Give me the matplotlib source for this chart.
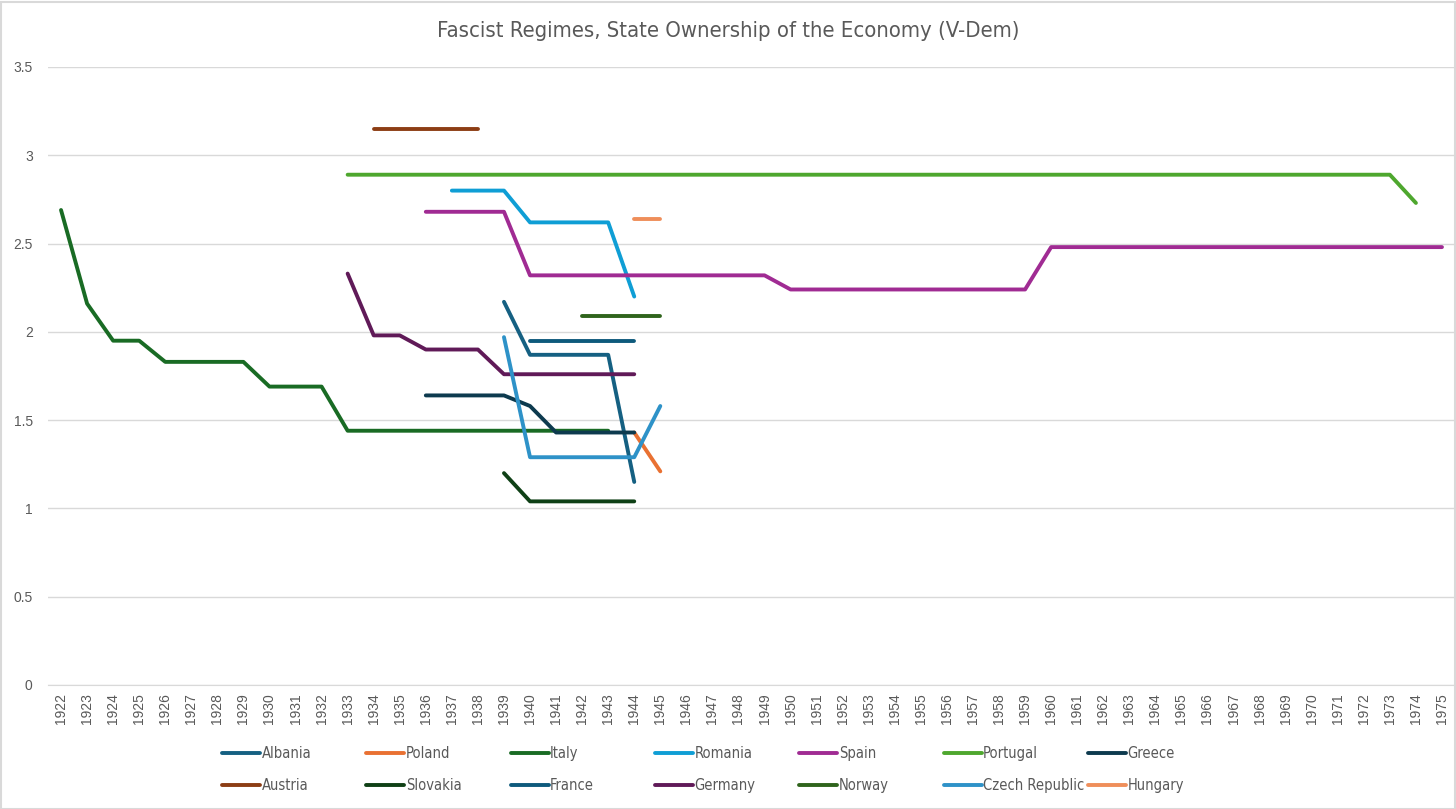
import numpy as np
import matplotlib
matplotlib.use("Agg")
import matplotlib.pyplot as plt
from matplotlib.patches import Rectangle
from matplotlib import font_manager as fm

years = list(range(1922, 1976))

# (start year, values)
albania_start, albania = 1939, [2.17, 1.87, 1.87, 1.87, 1.87, 1.15]
poland_start, poland = 1944, [1.43, 1.21]
italy_start, italy = 1922, [2.69, 2.16, 1.95, 1.95, 1.83, 1.83, 1.83, 1.83, 1.69, 1.69, 1.69,
                            1.44, 1.44, 1.44, 1.44, 1.44, 1.44, 1.44, 1.44, 1.44, 1.44, 1.44]
romania_start, romania = 1937, [2.80, 2.80, 2.80, 2.62, 2.62, 2.62, 2.62, 2.20]
spain_start, spain = 1936, [2.68, 2.68, 2.68, 2.68] + [2.32] * 10 + [2.24] * 10 + [2.48] * 16
portugal_start, portugal = 1933, [2.89] * 41 + [2.73]
greece_start, greece = 1936, [1.64, 1.64, 1.64, 1.64, 1.58, 1.43, 1.43, 1.43, 1.43]
austria_start, austria = 1934, [3.15, 3.15, 3.15, 3.15, 3.15]
slovakia_start, slovakia = 1939, [1.20, 1.04, 1.04, 1.04, 1.04, 1.04]
france_start, france = 1940, [1.95, 1.95, 1.95, 1.95, 1.95]
germany_start, germany = 1933, [2.33, 1.98, 1.98, 1.90, 1.90, 1.90, 1.76, 1.76, 1.76, 1.76, 1.76, 1.76]
norway_start, norway = 1942, [2.09, 2.09, 2.09, 2.09]
czech_start, czech = 1939, [1.97, 1.29, 1.29, 1.29, 1.29, 1.29, 1.58]
hungary_start, hungary = 1944, [2.64, 2.64]

series = [
    ("Albania", albania_start, albania, "#156082"),
    ("Poland", poland_start, poland, "#E97132"),
    ("Italy", italy_start, italy, "#196B24"),
    ("Romania", romania_start, romania, "#0F9ED5"),
    ("Spain", spain_start, spain, "#A02B93"),
    ("Portugal", portugal_start, portugal, "#4EA72E"),
    ("Greece", greece_start, greece, "#0D3A4E"),
    ("Austria", austria_start, austria, "#8C3D14"),
    ("Slovakia", slovakia_start, slovakia, "#0F4016"),
    ("France", france_start, france, "#0E5A7C"),
    ("Germany", germany_start, germany, "#601A58"),
    ("Norway", norway_start, norway, "#2F641C"),
    ("Czech Republic", czech_start, czech, "#2E92C8"),
    ("Hungary", hungary_start, hungary, "#EF8E5A"),
]

# Locate regular and narrow Liberation Sans files
reg_path, narrow_path = None, None
for f in fm.fontManager.ttflist:
    fn = f.fname.lower()
    if "liberationsans" in fn.replace("-", "").replace("_", ""):
        if "narrow" in fn and "regular" in fn:
            narrow_path = f.fname
        elif "narrow" not in fn and "regular" in fn:
            reg_path = f.fname
reg_fp = fm.FontProperties(fname=reg_path) if reg_path else fm.FontProperties(family="DejaVu Sans")
narrow_fp = (fm.FontProperties(fname=narrow_path) if narrow_path
             else fm.FontProperties(family="DejaVu Sans", stretch="condensed"))

plt.rcParams['font.family'] = ['DejaVu Sans']
W, H = 1456, 809
fig = plt.figure(figsize=(W / 100, H / 100), dpi=100)
fig.patches.append(Rectangle((0.5 / W, 0.5 / H), 1 - 2 / W, 1 - 2 / H, transform=fig.transFigure,
                             fill=False, edgecolor="#D9D9D9", linewidth=1.5))

left, right = 48 / W, 1455 / W
bottom, top = 1 - 685 / H, 1 - 67 / H
ax = fig.add_axes([left, bottom, right - left, top - bottom])

x = np.arange(len(years))
handles = []
for name, start, vals, color in series:
    arr = np.full(len(years), np.nan)
    i0 = years.index(start)
    arr[i0:i0 + len(vals)] = vals
    h, = ax.plot(x, arr, color=color, linewidth=2.8, solid_capstyle="round",
                 solid_joinstyle="round", label=name)
    handles.append(h)

ax.set_xlim(-0.5, len(years) - 0.5)
ax.set_ylim(0, 3.5)
ax.set_yticks([0, 0.5, 1, 1.5, 2, 2.5, 3, 3.5])
ax.set_yticklabels(["0", "0.5", "1", "1.5", "2", "2.5", "3", "3.5"])
ax.set_xticks(x)
ax.set_xticklabels([str(y) for y in years], rotation=90)
ax.grid(axis="y", color="#D9D9D9", linewidth=1)
ax.set_axisbelow(True)
for s in ["top", "right", "left"]:
    ax.spines[s].set_visible(False)
ax.spines["bottom"].set_color("#D9D9D9")
ax.tick_params(axis="both", length=0, colors="#595959")
ax.tick_params(axis="y", pad=11)
ax.tick_params(axis="x", pad=6)
for lbl in ax.get_xticklabels() + ax.get_yticklabels():
    lbl.set_fontproperties(reg_fp)
    lbl.set_fontsize(10)

title_fp = narrow_fp.copy()
title_fp.set_size(15.8)
fig.text(0.5, 1 - 31 / H, "Fascist Regimes, State Ownership of the Economy (V-Dem)",
         ha="center", va="center", color="#595959", fontproperties=title_fp)

# Legend: 7 columns, 2 rows, fixed column spacing like Excel
leg_fp = narrow_fp.copy()
leg_fp.set_size(10.5)
col_x = [228 + 144.3 * j for j in range(7)]
for j in range(7):
    hs = [handles[j], handles[j + 7]]
    leg = fig.legend(handles=hs, labels=[h.get_label() for h in hs], loc="upper left",
                     bbox_to_anchor=(col_x[j] / W - 0.006, 1 - 743 / H), frameon=False,
                     handlelength=2.6, handletextpad=0.1, labelspacing=1.15,
                     prop=leg_fp, labelcolor="#595959", borderaxespad=0, borderpad=0.2)

fig.savefig("out.png", dpi=100)
